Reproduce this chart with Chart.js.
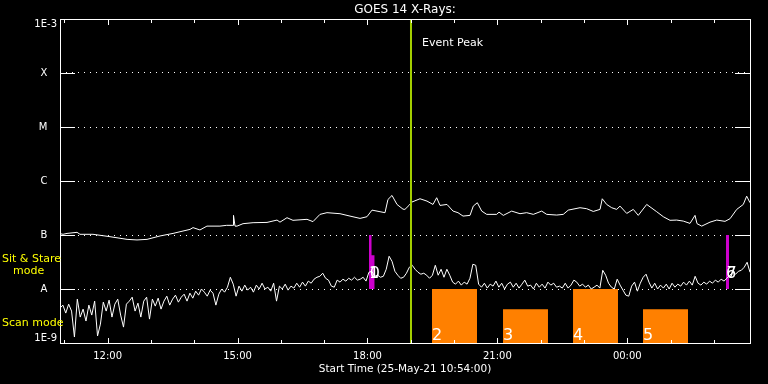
<!DOCTYPE html>
<html><head><meta charset="utf-8">
<script src="https://cdn.jsdelivr.net/npm/chart.js@4/dist/chart.umd.min.js"></script>
<style>html,body{margin:0;padding:0;background:#000;}#wrap{width:768px;height:384px;}</style>
</head><body><div id="wrap"><canvas id="c" width="768" height="384"></canvas></div>
<script>
// Time axis: minutes after start (25-May-21 10:54:00)
const xTickValues = [6,66,126,186,246,306,366,426,486,546,606,666,726,786,846,906];
const xTickLabelValues = [66,246,426,606,786];
const xTickLabels = ['12:00','15:00','18:00','21:00','00:00'];
const yTickValues = [1e-9,1e-8,1e-7,1e-6,1e-5,1e-4,1e-3];
const yTickLabels = ['1E-9','A','B','C','M','X','1E-3'];

// Long channel (upper white curve)
const longTimes = [0,4.2,9.7,23.6,27.7,45.7,69.3,92.9,106.7,120.6,138.6,156.6,166.3,180.1,184.3,193.9,203.6,221.6,230.9,239.7,240.4,242.5,245.3,253.6,267.5,286.8,300.7,304.8,314.5,322.8,342.2,350.5,360.2,369.9,387.9,401.8,415.7,425.3,432.3,443.4,450.3,454.4,460.0,466.9,475.2,477.9,483.5,487.3,498.8,508.5,516.8,521.9,526.5,536.2,544.6,551.4,558.4,568.1,572.6,578.2,584.3,591.2,605.0,608.3,614.2,625.8,637.3,646.6,655.8,667.4,674.3,688.2,697.3,704.2,720.5,729.7,738.9,748.2,751.3,757.4,764.4,771.3,775.9,785.2,794.3,801.2,812.9,826.7,835.9,845.2,854.4,863.6,872.9,879.8,882.6,889.1,900.6,909.9,921.4,928.3,937.6,946.7,951.4,956.0];
const longFlux = [1.06e-7,1.03e-7,1.07e-7,1.12e-7,1.03e-7,1.03e-7,9.3e-8,8.3e-8,8.1e-8,8.3e-8,9.6e-8,1.07e-7,1.15e-7,1.27e-7,1.37e-7,1.24e-7,1.46e-7,1.46e-7,1.51e-7,1.51e-7,2.31e-7,1.46e-7,1.46e-7,1.62e-7,1.69e-7,1.71e-7,1.89e-7,1.73e-7,2.09e-7,1.87e-7,1.95e-7,1.77e-7,2.41e-7,2.59e-7,2.48e-7,2.24e-7,2.03e-7,2.18e-7,2.89e-7,2.70e-7,2.59e-7,4.55e-7,5.40e-7,3.68e-7,3.01e-7,2.98e-7,3.53e-7,4.06e-7,4.69e-7,4.24e-7,3.68e-7,4.90e-7,3.53e-7,3.68e-7,2.77e-7,2.59e-7,2.24e-7,2.31e-7,3.43e-7,3.96e-7,2.77e-7,2.41e-7,2.41e-7,2.65e-7,2.31e-7,2.77e-7,2.48e-7,2.59e-7,2.41e-7,2.77e-7,2.41e-7,2.34e-7,2.41e-7,2.89e-7,3.20e-7,3.07e-7,2.73e-7,2.98e-7,4.69e-7,3.68e-7,3.20e-7,2.98e-7,3.43e-7,2.51e-7,2.98e-7,2.31e-7,3.68e-7,2.70e-7,2.18e-7,1.87e-7,1.89e-7,1.81e-7,1.64e-7,2.31e-7,1.62e-7,1.46e-7,1.73e-7,1.89e-7,1.79e-7,2.00e-7,2.98e-7,3.68e-7,5.24e-7,3.96e-7];

// Short channel (lower white curve), one sample every 4 minutes from start
const shortStep = 4;
const shortFlux = [
4.43e-9,5.03e-9,3.58e-9,5.24e-9,3.90e-9,1.29e-9,6.49e-9,3.02e-9,4.24e-9,2.55e-9,
5.03e-9,3.29e-9,5.96e-9,1.35e-9,2.24e-9,5.71e-9,3.90e-9,6.22e-9,3.02e-9,5.24e-9,
6.49e-9,3.29e-9,1.97e-9,5.24e-9,5.96e-9,7.06e-9,3.90e-9,5.47e-9,3.02e-9,5.96e-9,
7.06e-9,2.77e-9,6.49e-9,4.82e-9,6.77e-9,4.24e-9,5.96e-9,7.37e-9,5.03e-9,6.49e-9,
7.69e-9,5.71e-9,7.06e-9,8.02e-9,5.96e-9,8.37e-9,6.77e-9,9.12e-9,7.69e-9,1.0e-8,
8.74e-9,7.37e-9,9.52e-9,8.37e-9,5.03e-9,8.02e-9,1.0e-8,8.74e-9,1.08e-8,1.65e-8,
1.23e-8,7.37e-9,1.13e-8,9.12e-9,1.18e-8,9.52e-9,1.08e-8,8.74e-9,1.18e-8,1.0e-8,
1.28e-8,1.0e-8,1.08e-8,9.12e-9,1.28e-8,5.96e-9,1.13e-8,1.0e-8,1.23e-8,9.52e-9,
1.13e-8,1.04e-8,1.28e-8,1.08e-8,1.34e-8,1.13e-8,1.40e-8,1.28e-8,1.52e-8,1.65e-8,
1.72e-8,1.96e-8,1.58e-8,1.46e-8,1.13e-8,1.08e-8,1.46e-8,1.34e-8,1.52e-8,1.40e-8,
1.58e-8,1.46e-8,1.65e-8,1.46e-8,1.52e-8,1.65e-8,1.40e-8,2.04e-8,2.13e-8,1.72e-8,
1.80e-8,1.65e-8,1.72e-8,2.32e-8,4.04e-8,3.26e-8,2.13e-8,1.80e-8,1.58e-8,1.65e-8,
1.96e-8,2.53e-8,2.75e-8,2.32e-8,2.04e-8,1.88e-8,1.96e-8,1.80e-8,1.58e-8,1.80e-8,
2.75e-8,1.80e-8,2.32e-8,1.65e-8,2.32e-8,1.80e-8,1.34e-8,1.23e-8,1.40e-8,1.18e-8,
1.34e-8,1.23e-8,1.58e-8,2.87e-8,2.75e-8,1.23e-8,1.08e-8,1.28e-8,1.04e-8,1.23e-8,
1.13e-8,1.40e-8,1.08e-8,1.28e-8,1.0e-8,1.23e-8,1.34e-8,1.08e-8,1.28e-8,1.04e-8,
1.23e-8,1.46e-8,1.13e-8,1.18e-8,1.0e-8,1.28e-8,1.08e-8,1.23e-8,1.04e-8,1.34e-8,
1.18e-8,1.28e-8,1.08e-8,1.13e-8,1.04e-8,1.28e-8,1.04e-8,1.18e-8,1.46e-8,1.34e-8,
1.13e-8,1.23e-8,1.08e-8,1.18e-8,1.0e-8,1.08e-8,1.18e-8,1.04e-8,2.22e-8,1.80e-8,
1.28e-8,1.08e-8,1.0e-8,1.52e-8,1.18e-8,9.52e-9,7.69e-9,7.37e-9,1.13e-8,1.34e-8,
9.12e-9,1.28e-8,1.65e-8,1.88e-8,1.34e-8,1.04e-8,1.28e-8,1.0e-8,1.18e-8,1.04e-8,
1.23e-8,1.0e-8,1.28e-8,1.08e-8,1.23e-8,1.13e-8,1.34e-8,1.18e-8,1.40e-8,1.18e-8,
1.72e-8,1.28e-8,1.18e-8,1.34e-8,1.23e-8,1.40e-8,1.28e-8,1.46e-8,1.34e-8,1.52e-8,
1.40e-8,1.58e-8,1.80e-8,2.04e-8,1.88e-8,2.13e-8,2.22e-8,2.53e-8,3.13e-8,2.04e-8];
const shortTimes = shortFlux.map((_, i) => i * shortStep);

// Scan-mode blocks (orange)
const scanStart = [515.4, 613.8, 710.8, 807.7];
const scanEnd   = [577.8, 676.1, 773.1, 870.1];
const scanTop   = [1.0e-8, 4.2e-9, 1.0e-8, 4.2e-9];
// Sit & Stare blocks (magenta)
const stareStart = [428.1, 428.1, 922.7];
const stareEnd   = [431.9, 436.0, 926.9];
const stareTop   = [1.0e-7, 4.2e-8, 1.0e-7];
const stareBase  = 1.0e-8;
// Event peak
const eventPeak = 486.3;
// Observation numbers
const eventLabels = ['0','1','2','3','4','5','6','7'];
const eventLabelTimes = [429.0, 428.1, 515.4, 613.8, 710.8, 807.7, 922.7, 923.6];
const eventLabelLevels = [1.6e-8, 1.6e-8, 1.16e-9, 1.16e-9, 1.16e-9, 1.16e-9, 1.6e-8, 1.6e-8];
// Mode labels on the left
const modeLabels = ['Sit & Stare', 'mode', 'Scan mode'];
const modeLevels = [3.6e-8, 2.15e-8, 2.35e-9];

const FONT = 'DejaVu Sans';
const datasets = [];
datasets.push({ data: [{x:eventPeak,y:1e-9},{x:eventPeak,y:1e-3}], borderColor:'#a4d000', borderWidth:2, order:0, fill:false });
datasets.push({ data: longTimes.map((t,i)=>({x:t,y:longFlux[i]})), borderColor:'#ffffff', borderWidth:1, order:1, fill:false });
datasets.push({ data: shortTimes.map((t,i)=>({x:t,y:shortFlux[i]})), borderColor:'#ffffff', borderWidth:1, order:1, fill:false });
stareStart.forEach((s,i)=>{
  datasets.push({ data:[{x:s,y:stareTop[i]},{x:stareEnd[i],y:stareTop[i]}], borderWidth:0, borderColor:'rgba(0,0,0,0)', backgroundColor:'#cc00cc', fill:{value:stareBase}, order:3 });
});
scanStart.forEach((s,i)=>{
  datasets.push({ data:[{x:s,y:scanTop[i]},{x:scanEnd[i],y:scanTop[i]}], borderWidth:0, borderColor:'rgba(0,0,0,0)', backgroundColor:'#ff8000', fill:'start', order:4 });
});

const decor = {
  id: 'decor',
  beforeDraw(chart) {
    const c = chart.ctx; c.save(); c.fillStyle = '#000'; c.fillRect(0,0,chart.width,chart.height); c.restore();
  },
  afterDatasetsDraw(chart) {
    const {ctx, chartArea: a, scales: {x, y}} = chart;
    ctx.save();
    ctx.strokeStyle = '#fff'; ctx.lineWidth = 1;
    const seg = (x1,y1,x2,y2)=>{ ctx.beginPath(); ctx.moveTo(x1,y1); ctx.lineTo(x2,y2); ctx.stroke(); };
    ctx.strokeRect(a.left + 0.5, a.top + 0.5, a.right - a.left, a.bottom - a.top);
    xTickValues.forEach(v => {
      const px = Math.round(x.getPixelForValue(v)) + 0.5;
      const len = xTickLabelValues.includes(v) ? 5 : 3;
      seg(px, a.bottom + 0.5, px, a.bottom - len);
      seg(px, a.top + 0.5, px, a.top + len + 1);
    });
    yTickValues.forEach(v => {
      const py = Math.round(y.getPixelForValue(v)) + 0.5;
      seg(a.left, py, a.left + 15, py);
      seg(a.right - 15, py, a.right + 1, py);
    });
    // Event peak text
    ctx.fillStyle = '#fff';
    ctx.font = '11px "' + FONT + '"';
    ctx.textBaseline = 'middle'; ctx.textAlign = 'left';
    ctx.fillText('Event Peak', x.getPixelForValue(eventPeak) + 11, a.top + 24);
    // Observation numbers
    ctx.font = '16px "' + FONT + '"';
    ctx.textBaseline = 'alphabetic';
    eventLabels.forEach((t,i) => {
      ctx.fillText(t, x.getPixelForValue(eventLabelTimes[i]), y.getPixelForValue(eventLabelLevels[i]));
    });
    // Mode labels
    ctx.fillStyle = '#ffff00';
    ctx.font = '11px "' + FONT + '"';
    ctx.textBaseline = 'middle';
    const mx = [2, 13, 2];
    modeLabels.forEach((t,i) => ctx.fillText(t, mx[i], y.getPixelForValue(modeLevels[i])));
    ctx.restore();
  }
};

Chart.defaults.font.family = FONT;
Chart.defaults.color = '#ffffff';
new Chart(document.getElementById('c'), {
  type: 'line',
  data: { datasets },
  options: {
    responsive: false, animation: false, devicePixelRatio: 1,
    layout: { padding: { left: 0, right: 18, top: 0, bottom: 0 } },
    plugins: { legend: { display: false }, tooltip: { enabled: false }, title: { display: false } },
    elements: { point: { radius: 0 }, line: { tension: 0 } },
    scales: {
      x: {
        type: 'linear', position: 'bottom', min: 0, max: 956,
        afterBuildTicks: s => { s.ticks = xTickValues.map(v => ({ value: v })); },
        ticks: { autoSkip: false, maxRotation: 0, minRotation: 0, color: '#fff', font: { size: 10 }, padding: 7,
          callback: v => { const i = xTickLabelValues.indexOf(v); return i >= 0 ? xTickLabels[i] : ''; } },
        grid: { display: false, drawTicks: false },
        border: { display: false },
        title: { display: true, text: 'Start Time (25-May-21 10:54:00)', color: '#fff', font: { size: 10.5 }, padding: { top: 0, bottom: 8 } },
        afterFit: s => { s.height = 41; }
      },
      xt: {
        type: 'linear', position: 'top', min: 0, max: 956,
        ticks: { display: false },
        grid: { display: false, drawTicks: false },
        border: { display: false },
        title: { display: true, text: 'GOES 14 X-Rays:', color: '#fff', font: { size: 12 }, padding: { top: 3, bottom: 0 } },
        afterFit: s => { s.height = 19; }
      },
      y: {
        type: 'logarithmic', position: 'left', min: 1e-9, max: 1e-3,
        afterBuildTicks: s => { s.ticks = yTickValues.map(v => ({ value: v })); },
        ticks: { autoSkip: false, color: '#fff', font: { size: 10, lineHeight: 1.0 }, padding: 3,
          callback: (v, i) => {
            const t = yTickLabels[i];
            if (i === 0) return [t, ''];
            if (i === yTickLabels.length - 1) return ['', t];
            return t + '   ';
          } },
        grid: { color: '#ffffff', lineWidth: 1, drawTicks: false },
        border: { display: false, dash: [1, 5] },
        afterFit: s => { s.width = 60; }
      }
    }
  },
  plugins: [decor]
});
</script>
</body></html>
